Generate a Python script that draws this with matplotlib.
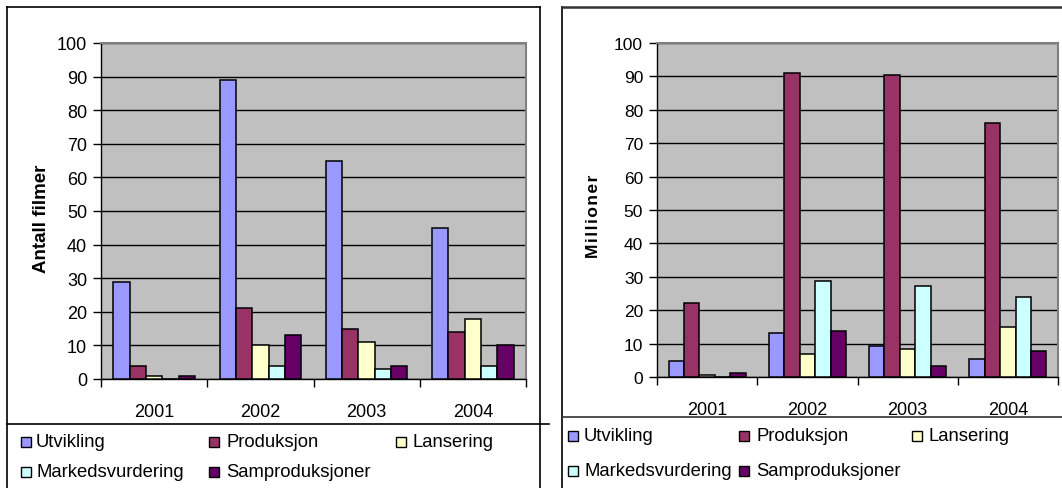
import numpy as np
import matplotlib.pyplot as plt
from matplotlib.patches import Rectangle
from matplotlib.lines import Line2D

plt.rcParams['font.family'] = ['Liberation Sans', 'DejaVu Sans']

# data
years = ['2001', '2002', '2003', '2004']
series = ['Utvikling', 'Produksjon', 'Lansering', 'Markedsvurdering', 'Samproduksjoner']
colors = ['#9999FF', '#993366', '#FFFFCC', '#CCFFFF', '#660066']

# Antall filmer
filmer_utvikling = [29, 89, 65, 45]
filmer_produksjon = [4, 21, 15, 14]
filmer_lansering = [1, 10, 11, 18]
filmer_marked = [0, 4, 3, 4]
filmer_samprod = [1, 13, 4, 10]

# Millioner
mill_utvikling = [4.8, 13.1, 9.4, 5.4]
mill_produksjon = [22.3, 91.0, 90.4, 76.0]
mill_lansering = [0.5, 6.8, 8.4, 15.1]
mill_marked = [0, 28.6, 27.1, 23.9]
mill_samprod = [1.1, 13.7, 3.2, 7.9]

filmer = [filmer_utvikling, filmer_produksjon, filmer_lansering, filmer_marked, filmer_samprod]
mill = [mill_utvikling, mill_produksjon, mill_lansering, mill_marked, mill_samprod]

W, H = 1062, 489
fig = plt.figure(figsize=(W / 100, H / 100), dpi=100)


def fx(x):
    return x / W


def fy(y):
    return 1 - y / H


def line(xs, ys, c='black', lw=1.2):
    fig.add_artist(Line2D([fx(v) for v in xs], [fy(v) for v in ys],
                          transform=fig.transFigure, color=c, lw=lw))


def bar_chart(rect, data, ylabel, fs_tick, ylabel_x, ylabel_dy, ylabel_fs):
    x0, y0, x1, y1 = rect
    ax = fig.add_axes([fx(x0), fy(y1), (x1 - x0) / W, (y1 - y0) / H])
    ax.set_facecolor('#C0C0C0')
    w = 1 / 6.5
    idx = np.arange(len(years))
    for j, vals in enumerate(data):
        ax.bar(idx + 0.5 + (j - 2) * w, vals, width=w, color=colors[j],
               edgecolor='black', linewidth=1.1, zorder=3)
    ax.set_xlim(0, 4)
    ax.set_ylim(0, 100)
    ax.set_yticks(range(0, 101, 10))
    ax.yaxis.grid(True, color='black', lw=1.0, zorder=0)
    ax.set_xticks(range(5))
    ax.set_xticklabels([])
    ax.set_xticks(idx + 0.5, minor=True)
    ax.set_xticklabels(years, minor=True, fontsize=13)
    ax.tick_params(axis='x', which='minor', length=0, pad=17)
    ax.tick_params(axis='x', which='major', length=6, width=1, direction='out')
    ax.tick_params(axis='y', length=6, width=1, labelsize=fs_tick, pad=4)
    for s in ['top', 'right']:
        ax.spines[s].set_color('#808080')
        ax.spines[s].set_linewidth(1.5)
    for s in ['left', 'bottom']:
        ax.spines[s].set_color('black')
        ax.spines[s].set_linewidth(1.0)
    fig.text(fx(ylabel_x), fy((y0 + y1) / 2 + ylabel_dy), ylabel, rotation=90,
             fontsize=ylabel_fs, fontweight='bold', ha='center', va='center')
    return ax


def legend(slots, row_y):
    # slots: (marker_x, text_x) for each series, row-major
    for j, name in enumerate(series):
        mx, tx = slots[j]
        y = row_y[0] if j < 3 else row_y[1]
        fig.add_artist(Rectangle((fx(mx), fy(y + 5)), 10 / W, 10 / H,
                                 transform=fig.transFigure, facecolor=colors[j],
                                 edgecolor='black', lw=1.0))
        fig.text(fx(tx), fy(y), name, fontsize=13.3, ha='left', va='center')


# left chart
bar_chart((101, 44, 526, 380), filmer, 'Antall filmer', 13, 41, 7, 13.5)
line([7, 7], [8, 490])
line([7, 540], [8, 8])
line([540, 540], [8, 490])
line([7, 549], [425, 425])
legend([(21, 36), (209, 226), (396, 412), (21, 36), (209, 226)], (443, 473))

# right chart (label letter-spaced a little, as in the original)
bar_chart((657, 44, 1058, 378), mill, '\u200a'.join('Millioner'), 12.5, 593, 5, 12.5)
line([562, 562], [8, 490])
line([562, 1062], [8, 8], c='#333333', lw=1.8)
line([562, 1062], [418, 418], c='#333333')
legend([(568, 584), (739, 756), (912, 928), (568, 584), (739, 756)], (437, 472))

fig.savefig('out.png', dpi=100)
